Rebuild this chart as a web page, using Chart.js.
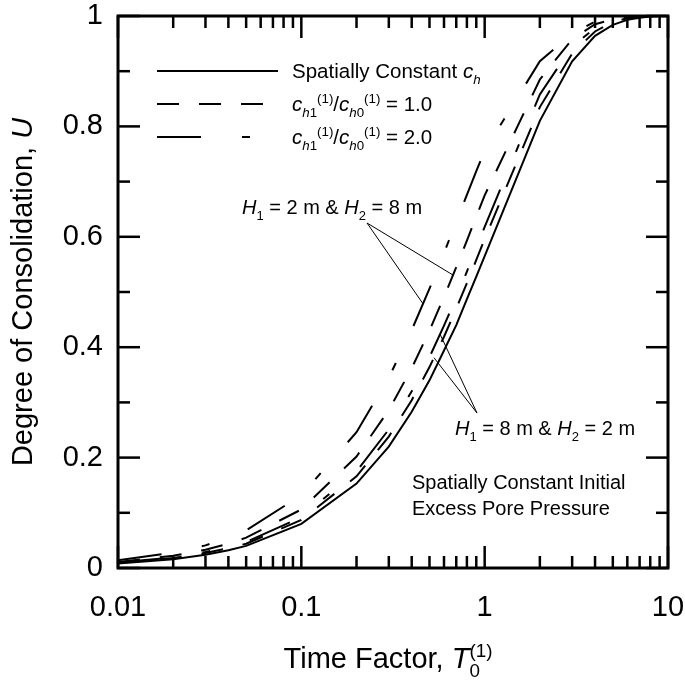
<!DOCTYPE html>
<html>
<head>
<meta charset="utf-8">
<script src="https://cdn.jsdelivr.net/npm/chart.js@4.4.0/dist/chart.umd.min.js"></script>
<style>
  html, body { margin: 0; padding: 0; background: #fff; }
  #wrap { width: 685px; height: 682px; }
</style>
</head>
<body>
<div id="wrap"><canvas id="chart" width="685" height="682"></canvas></div>
<script>
// values (degree of consolidation U vs time factor T0)
const timeFactor = [0.01, 0.02, 0.03, 0.04, 0.05, 0.1, 0.2, 0.3, 0.4, 0.5, 0.6, 0.7, 0.8, 0.9, 1, 2, 3, 4, 5, 6, 7, 8, 9, 10];
const uConstant  = [0.008, 0.016, 0.024, 0.032, 0.040, 0.080, 0.153, 0.220, 0.283, 0.340, 0.394, 0.440, 0.487, 0.528, 0.565, 0.810, 0.918, 0.964, 0.984, 0.993, 0.997, 0.999, 1.0, 1.0];
const uRatio1H2  = [0.011, 0.022, 0.033, 0.044, 0.055, 0.106, 0.202, 0.286, 0.362, 0.430, 0.491, 0.545, 0.593, 0.637, 0.675, 0.885, 0.958, 0.985, 0.994, 0.998, 1.0, 1.0, 1.0, 1.0];
const uRatio1H8  = [0.009, 0.018, 0.027, 0.036, 0.044, 0.087, 0.166, 0.238, 0.304, 0.364, 0.419, 0.470, 0.516, 0.558, 0.596, 0.835, 0.932, 0.972, 0.989, 0.996, 0.998, 0.999, 1.0, 1.0];
const uRatio2H2  = [0.014, 0.028, 0.041, 0.055, 0.068, 0.132, 0.246, 0.345, 0.431, 0.506, 0.571, 0.627, 0.676, 0.719, 0.756, 0.918, 0.968, 0.990, 0.997, 0.999, 1.0, 1.0, 1.0, 1.0];
const uRatio2H8  = [0.010, 0.019, 0.029, 0.038, 0.047, 0.092, 0.175, 0.251, 0.320, 0.382, 0.439, 0.490, 0.537, 0.580, 0.618, 0.858, 0.945, 0.978, 0.992, 0.997, 0.999, 1.0, 1.0, 1.0];

const xTickValues = [0.01, 0.1, 1, 10];
const xTickLabels = ['0.01', '0.1', '1', '10'];
const yTickValues = [0, 0.2, 0.4, 0.6, 0.8, 1];
const yTickLabels = ['0', '0.2', '0.4', '0.6', '0.8', '1'];
const yMinorValues = [0.1, 0.3, 0.5, 0.7, 0.9];

const FONT = "'Liberation Sans', Arial, sans-serif";
const DASHED  = [22, 20];
const DASHDOT = [44, 41, 8, 41];

function series(values) {
  return timeFactor.map((t, i) => ({ x: t, y: values[i] }));
}

function lineSet(label, values, dash) {
  return {
    label: label,
    data: series(values),
    borderColor: '#000',
    borderWidth: 2,
    borderDash: dash,
    pointRadius: 0,
    tension: 0,
    fill: false
  };
}

// U of a dataset at time t (straight between points on the log axis)
function valueAt(values, t) {
  for (let i = 1; i < timeFactor.length; i++) {
    if (t <= timeFactor[i]) {
      const t0 = timeFactor[i - 1], t1 = timeFactor[i];
      const f = Math.log(t / t0) / Math.log(t1 / t0);
      return values[i - 1] + f * (values[i] - values[i - 1]);
    }
  }
  return values[values.length - 1];
}

// rich text: parts with italic / sub / sup / stacked sup
function layoutRich(ctx, parts, size) {
  let x = 0, prevStart = 0, prevW = 0;
  const runs = [];
  parts.forEach(p => {
    const fs = (p.sub || p.sup) ? size * 0.65 : size;
    const font = (p.i ? 'italic ' : '') + fs + 'px ' + FONT;
    ctx.font = font;
    const w = ctx.measureText(p.t).width;
    const px = p.stack ? prevStart : x;
    const dy = p.sub ? size * 0.28 : (p.sup ? -size * 0.4 : 0);
    runs.push({ t: p.t, font: font, x: px, dy: dy });
    if (p.stack) {
      x = Math.max(prevStart + prevW, px + w);
    } else {
      prevStart = px; prevW = w; x = px + w;
    }
  });
  return { runs: runs, width: x };
}

function drawRich(ctx, parts, x, y, size, align) {
  const lay = layoutRich(ctx, parts, size);
  const x0 = align === 'center' ? x - lay.width / 2 : x;
  const base = y + size * 0.36;
  ctx.fillStyle = '#000';
  ctx.textAlign = 'left';
  ctx.textBaseline = 'alphabetic';
  lay.runs.forEach(r => {
    ctx.font = r.font;
    ctx.fillText(r.t, x0 + r.x, base + r.dy);
  });
}

const legendRows = [
  { ds: 0, y: 71,  parts: [{ t: 'Spatially Constant ' }, { t: 'c', i: 1 }, { t: 'h', i: 1, sub: 1 }] },
  { ds: 1, y: 104, parts: [{ t: 'c', i: 1 }, { t: 'h', i: 1, sub: 1 }, { t: '1', sub: 1 }, { t: '(1)', sup: 1 }, { t: '/' },
                           { t: 'c', i: 1 }, { t: 'h', i: 1, sub: 1 }, { t: '0', sub: 1 }, { t: '(1)', sup: 1 }, { t: ' = 1.0' }] },
  { ds: 3, y: 137, parts: [{ t: 'c', i: 1 }, { t: 'h', i: 1, sub: 1 }, { t: '1', sub: 1 }, { t: '(1)', sup: 1 }, { t: '/' },
                           { t: 'c', i: 1 }, { t: 'h', i: 1, sub: 1 }, { t: '0', sub: 1 }, { t: '(1)', sup: 1 }, { t: ' = 2.0' }] }
];

const callouts = [
  { x: 242, y: 207, from: [367, 223],
    parts: [{ t: 'H', i: 1 }, { t: '1', sub: 1 }, { t: ' = 2 m & ' }, { t: 'H', i: 1 }, { t: '2', sub: 1 }, { t: ' = 8 m' }],
    targets: [{ values: uRatio1H2, t: 0.672 }, { values: uRatio2H2, t: 0.461 }] },
  { x: 455, y: 428, from: [477, 413],
    parts: [{ t: 'H', i: 1 }, { t: '1', sub: 1 }, { t: ' = 8 m & ' }, { t: 'H', i: 1 }, { t: '2', sub: 1 }, { t: ' = 2 m' }],
    targets: [{ values: uRatio2H8, t: 0.571 }, { values: uRatio1H8, t: 0.529 }] }
];

const overlay = {
  id: 'overlay',
  afterDraw(chart) {
    const { ctx, chartArea: a, scales: { x, y } } = chart;
    ctx.save();

    // inward ticks on all four sides
    ctx.strokeStyle = '#000';
    ctx.lineWidth = 2.5;
    ctx.setLineDash([]);
    const xMinor = [];
    [0.01, 0.1, 1].forEach(d => { for (let m = 2; m <= 9; m++) xMinor.push(d * m); });
    const tick = (x1, y1, x2, y2) => { ctx.beginPath(); ctx.moveTo(x1, y1); ctx.lineTo(x2, y2); ctx.stroke(); };
    xTickValues.forEach(v => { const px = x.getPixelForValue(v); tick(px, a.bottom, px, a.bottom - 22); tick(px, a.top, px, a.top + 22); });
    xMinor.forEach(v => { const px = x.getPixelForValue(v); tick(px, a.bottom, px, a.bottom - 12); tick(px, a.top, px, a.top + 12); });
    yTickValues.forEach(v => { const py = y.getPixelForValue(v); tick(a.left, py, a.left + 22, py); tick(a.right, py, a.right - 22, py); });
    yMinorValues.forEach(v => { const py = y.getPixelForValue(v); tick(a.left, py, a.left + 12, py); tick(a.right, py, a.right - 12, py); });

    // frame
    ctx.lineWidth = 3;
    ctx.strokeRect(a.left, a.top, a.right - a.left, a.bottom - a.top);

    // legend
    legendRows.forEach(row => {
      const ds = chart.data.datasets[row.ds];
      ctx.lineWidth = 2;
      ctx.setLineDash(ds.borderDash || []);
      ctx.beginPath(); ctx.moveTo(157, row.y); ctx.lineTo(278, row.y); ctx.stroke();
      ctx.setLineDash([]);
      drawRich(ctx, row.parts, 292, row.y, 20.5, 'left');
    });

    // callouts with pointer lines
    ctx.lineWidth = 1;
    callouts.forEach(c => {
      drawRich(ctx, c.parts, c.x, c.y, 20, 'left');
      c.targets.forEach(tg => {
        const px = x.getPixelForValue(tg.t);
        const py = y.getPixelForValue(valueAt(tg.values, tg.t));
        ctx.beginPath(); ctx.moveTo(c.from[0], c.from[1]); ctx.lineTo(px, py); ctx.stroke();
      });
    });

    drawRich(ctx, [{ t: 'Spatially Constant Initial' }], 412, 482, 20, 'left');
    drawRich(ctx, [{ t: 'Excess Pore Pressure' }], 412, 508, 20, 'left');

    // axis titles
    drawRich(ctx, [{ t: 'Time Factor, ' }, { t: 'T', i: 1 }, { t: '0', sub: 1 }, { t: '(1)', sup: 1, stack: 1 }], 388, 658, 29, 'center');
    ctx.translate(22, 292);
    ctx.rotate(-Math.PI / 2);
    drawRich(ctx, [{ t: 'Degree of Consolidation, ' }, { t: 'U', i: 1 }], 0, 0, 29, 'center');

    ctx.restore();
  }
};

function findIndex(list, v, logScale) {
  return list.findIndex(t => logScale ? Math.abs(Math.log10(t) - Math.log10(v)) < 1e-6 : Math.abs(t - v) < 1e-6);
}

new Chart(document.getElementById('chart'), {
  type: 'line',
  data: {
    datasets: [
      lineSet('Spatially Constant ch', uConstant, []),
      lineSet('ch1/ch0 = 1.0, H1 = 2 m & H2 = 8 m', uRatio1H2, DASHED),
      lineSet('ch1/ch0 = 1.0, H1 = 8 m & H2 = 2 m', uRatio1H8, DASHED),
      lineSet('ch1/ch0 = 2.0, H1 = 2 m & H2 = 8 m', uRatio2H2, DASHDOT),
      lineSet('ch1/ch0 = 2.0, H1 = 8 m & H2 = 2 m', uRatio2H8, DASHDOT)
    ]
  },
  options: {
    responsive: false,
    animation: false,
    devicePixelRatio: 1,
    layout: { padding: { top: 16, right: 17, left: 0, bottom: 0 } },
    plugins: { legend: { display: false }, tooltip: { enabled: false } },
    scales: {
      x: {
        type: 'logarithmic',
        min: 0.01,
        max: 10,
        grid: { display: false, drawTicks: false },
        border: { display: false },
        afterFit: s => { s.height = 114; s.paddingLeft = 0; s.paddingRight = 0; },
        ticks: {
          autoSkip: false,
          maxRotation: 0,
          minRotation: 0,
          padding: 23,
          color: '#000',
          font: { family: FONT, size: 29 },
          callback: v => {
            const i = findIndex(xTickValues, v, true);
            return i >= 0 ? xTickLabels[i] : '';
          }
        }
      },
      y: {
        type: 'linear',
        min: 0,
        max: 1,
        grid: { display: false, drawTicks: false },
        border: { display: false },
        afterFit: s => { s.width = 118; s.paddingTop = 0; s.paddingBottom = 0; },
        ticks: {
          stepSize: 0.2,
          padding: 15,
          color: '#000',
          font: { family: FONT, size: 29 },
          callback: v => {
            const i = findIndex(yTickValues, v, false);
            return i >= 0 ? yTickLabels[i] : '';
          }
        }
      }
    }
  },
  plugins: [overlay]
});
</script>
</body>
</html>
